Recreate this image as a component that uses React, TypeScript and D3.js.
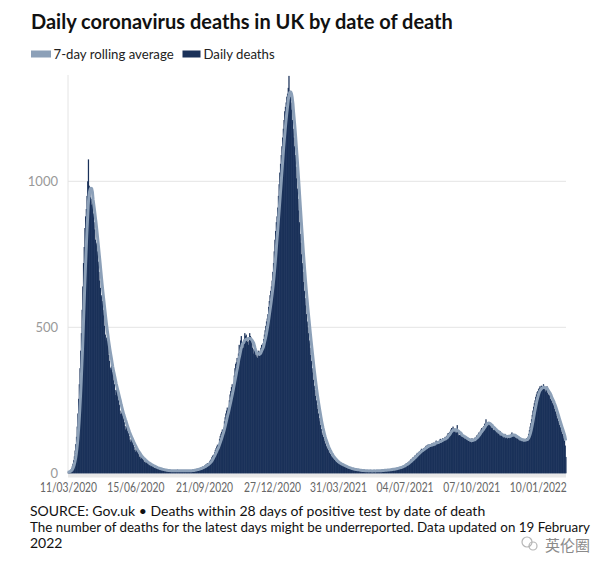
import React from "react";
import * as d3 from "d3";

// ---- Data: daily deaths within 28 days of positive test, by date of death ----
const d2020_03 = [3, 5, 7, 9, 13, 17, 24, 33, 45, 58, 78, 100, 125, 160, 205, 255, 305, 360, 420, 480, 560, 640];
const d2020_04 = [720, 775, 840, 880, 905, 950, 1000, 1075, 985, 960, 945, 920, 940, 925, 890, 860, 835, 800, 785, 790, 760, 725, 690, 660, 635, 605, 610, 590, 560, 540];
const d2020_05 = [505, 475, 455, 465, 455, 440, 405, 385, 362, 355, 368, 348, 335, 318, 305, 285, 268, 288, 278, 265, 250, 235, 215, 203, 205, 212, 198, 188, 175, 162, 150];
const d2020_06 = [160, 155, 145, 138, 128, 115, 108, 118, 115, 108, 98, 90, 80, 74, 85, 80, 75, 68, 62, 56, 50, 60, 56, 52, 48, 44, 39, 35, 43, 40];
const d2020_07 = [38, 34, 31, 28, 24, 31, 29, 27, 25, 22, 19, 17, 23, 20, 19, 17, 15, 14, 12, 16, 15, 14, 12, 11, 10, 9, 12, 11, 10, 9, 8];
const d2020_08 = [9, 7, 11, 10, 9, 8, 10, 7, 6, 11, 10, 9, 12, 8, 7, 6, 10, 11, 9, 10, 8, 7, 6, 9, 10, 11, 9, 10, 8, 7, 9];
const d2020_09 = [10, 11, 9, 12, 10, 8, 13, 14, 15, 13, 16, 14, 12, 18, 19, 21, 20, 23, 21, 19, 27, 29, 31, 33, 35, 32, 30, 41, 45, 48];
const d2020_10 = [55, 60, 62, 64, 72, 80, 86, 92, 98, 96, 100, 118, 128, 136, 142, 150, 148, 156, 178, 192, 205, 215, 225, 220, 222, 250, 270, 282, 295, 305, 300];
const d2020_11 = [310, 335, 360, 375, 380, 395, 385, 410, 440, 430, 455, 470, 445, 450, 430, 455, 480, 470, 475, 460, 450, 440, 455, 480, 470, 465, 445, 430, 410, 425];
const d2020_12 = [420, 405, 415, 400, 395, 410, 420, 405, 415, 430, 440, 435, 445, 460, 475, 490, 505, 520, 530, 545, 570, 590, 610, 625, 640, 660, 690, 720, 760, 800, 830];
const d2021_01 = [860, 880, 910, 950, 990, 1030, 1060, 1090, 1120, 1150, 1180, 1210, 1240, 1255, 1270, 1290, 1300, 1320, 1361, 1310, 1290, 1270, 1245, 1210, 1180, 1150, 1120, 1090, 1050, 1010, 975];
const d2021_02 = [940, 900, 860, 820, 790, 750, 720, 690, 655, 625, 600, 575, 545, 520, 500, 480, 455, 430, 405, 385, 360, 345, 320, 300, 285, 265, 250, 235];
const d2021_03 = [220, 205, 190, 178, 165, 152, 140, 132, 125, 118, 110, 102, 95, 90, 85, 80, 75, 70, 66, 62, 58, 55, 52, 50, 47, 44, 41, 39, 37, 35, 34];
const d2021_04 = [33, 31, 30, 28, 27, 29, 26, 24, 23, 22, 20, 21, 19, 18, 17, 18, 16, 15, 14, 15, 13, 12, 14, 12, 11, 13, 12, 10, 11, 10];
const d2021_05 = [9, 10, 8, 11, 9, 10, 8, 7, 9, 10, 8, 9, 7, 8, 10, 9, 7, 8, 9, 8, 10, 7, 8, 9, 10, 8, 9, 11, 8, 9, 10];
const d2021_06 = [9, 11, 10, 12, 10, 9, 11, 12, 13, 11, 12, 14, 13, 12, 15, 14, 16, 15, 13, 17, 18, 16, 19, 20, 18, 21, 22, 20, 24, 25];
const d2021_07 = [26, 28, 27, 30, 33, 35, 34, 38, 40, 39, 44, 48, 46, 52, 55, 53, 58, 62, 60, 66, 70, 68, 72, 75, 74, 80, 84, 78, 82, 86, 83];
const d2021_08 = [88, 92, 95, 90, 98, 94, 100, 96, 92, 99, 103, 97, 105, 101, 98, 108, 112, 104, 110, 106, 102, 115, 118, 110, 114, 120, 116, 112, 122, 125, 118];
const d2021_09 = [128, 132, 138, 135, 142, 140, 150, 155, 148, 160, 145, 142, 152, 138, 140, 165, 144, 130, 132, 128, 134, 126, 130, 124, 128, 120, 118, 124, 115, 118];
const d2021_10 = [115, 112, 108, 118, 110, 105, 120, 114, 118, 112, 122, 118, 125, 130, 128, 135, 140, 138, 145, 150, 155, 148, 158, 162, 170, 165, 185, 172, 168, 175, 170];
const d2021_11 = [165, 160, 172, 155, 158, 150, 148, 155, 145, 150, 140, 142, 135, 138, 130, 145, 128, 132, 125, 130, 122, 128, 135, 120, 126, 130, 118, 124, 132, 128];
const d2021_12 = [126, 135, 140, 128, 132, 125, 130, 122, 128, 118, 125, 115, 120, 112, 118, 110, 115, 112, 118, 110, 114, 116, 112, 120, 118, 125, 135, 148, 160, 172, 185];
const d2022_01 = [200, 215, 228, 240, 250, 262, 270, 278, 282, 288, 292, 298, 285, 300, 290, 296, 305, 288, 294, 280, 286, 298, 275, 270, 265, 268, 255, 250, 248, 240, 236];
const d2022_02 = [228, 220, 212, 205, 196, 188, 180, 172, 165, 158, 150, 142, 135, 128, 120, 112, 95, 56];

// [year, month, first day, values]
const monthBlocks: [number, number, number, number[]][] = [
  [2020, 3, 10, d2020_03], [2020, 4, 1, d2020_04], [2020, 5, 1, d2020_05], [2020, 6, 1, d2020_06],
  [2020, 7, 1, d2020_07], [2020, 8, 1, d2020_08], [2020, 9, 1, d2020_09], [2020, 10, 1, d2020_10],
  [2020, 11, 1, d2020_11], [2020, 12, 1, d2020_12], [2021, 1, 1, d2021_01], [2021, 2, 1, d2021_02],
  [2021, 3, 1, d2021_03], [2021, 4, 1, d2021_04], [2021, 5, 1, d2021_05], [2021, 6, 1, d2021_06],
  [2021, 7, 1, d2021_07], [2021, 8, 1, d2021_08], [2021, 9, 1, d2021_09], [2021, 10, 1, d2021_10],
  [2021, 11, 1, d2021_11], [2021, 12, 1, d2021_12], [2022, 1, 1, d2022_01], [2022, 2, 1, d2022_02],
];

const xTickDates = ["2020-03-11", "2020-06-15", "2020-09-21", "2020-12-27", "2021-03-31", "2021-07-04", "2021-10-07", "2022-01-10"];
const yTicks = [0, 500, 1000];

const title = "Daily coronavirus deaths in UK by date of death";
const legendItems = ["7-day rolling average", "Daily deaths"];
const footerLines = [
  "SOURCE: Gov.uk \u2022 Deaths within 28 days of positive test by date of death",
  "The number of deaths for the latest days might be underreported. Data updated on 19 February",
  "2022",
];

const BAR = "#1a3159";
const LINE = "#8ca0b8";
const FONT = "Lato, 'Open Sans', sans-serif";

type Pt = { date: Date; value: number };

const daily: Pt[] = [];
monthBlocks.forEach(([y, m, first, vals]) => {
  vals.forEach((v, i) => daily.push({ date: new Date(Date.UTC(y, m - 1, first + i)), value: v }));
});

const rolling: Pt[] = daily.map((d, i) => {
  const win = daily.slice(Math.max(0, i - 6), i + 1);
  return { date: d.date, value: d3.mean(win, (w) => w.value) as number };
});

export default function App() {
  const W = 611, H = 565;
  const left = 68, right = 566;
  const DAY = 86400000;
  const first = daily[0].date.getTime();
  const last = daily[daily.length - 1].date.getTime();
  const x = d3.scaleUtc().domain([new Date(first - DAY / 2), new Date(last + DAY / 2)]).range([67.5, right]);
  const y = d3.scaleLinear().domain([0, 1000]).range([473.3, 181.3]);
  const step = x(new Date(first + DAY)) - x(new Date(first));
  const fmt = d3.utcFormat("%d/%m/%Y");
  const line = d3.line<Pt>().x((d) => x(d.date)).y((d) => y(d.value));

  return (
    <div style={{ position: "absolute", left: 0, top: 0 }}>
      <svg width={W} height={H} style={{ display: "block", background: "#fff" }}>
        <text x={31} y={28.5} fontFamily={FONT} fontWeight={700} fontSize={20} fill="#111">{title}</text>

        {/* legend */}
        <rect x={31} y={50.5} width={20} height={7} fill={LINE} />
        <text x={53.5} y={58.5} fontFamily={FONT} fontSize={13.2} fill="#222">{legendItems[0]}</text>
        <rect x={182.5} y={50.5} width={18} height={7} fill={BAR} />
        <text x={203.5} y={58.5} fontFamily={FONT} fontSize={13.2} fill="#222">{legendItems[1]}</text>

        {/* grid */}
        <line x1={left} x2={left} y1={75} y2={473.3} stroke="#e4e4e4" strokeWidth={1} />
        {yTicks.map((t) => (
          <g key={t}>
            {t > 0 && <line x1={left} x2={right} y1={y(t)} y2={y(t)} stroke="#e4e4e4" strokeWidth={1} />}
            <text x={58} y={y(t)} dy="0.35em" textAnchor="end" fontFamily={FONT} fontSize={13} fill="#999">{t}</text>
          </g>
        ))}

        {/* baseline band */}
        <rect x={left} y={473.5} width={right - left} height={4} fill="#e8e8e8" />

        {/* bars (slightly overlapping so the fill reads as solid navy) */}
        {daily.map((d, i) => (
          <rect key={i} x={x(d.date) - step / 2} width={step + 0.55} y={y(d.value)} height={y(0) - y(d.value)} fill={BAR} />
        ))}

        {/* rolling average */}
        <path d={line(rolling) || ""} fill="none" stroke={LINE} strokeWidth={3} strokeLinejoin="round" />

        {/* x labels */}
        {xTickDates.map((s) => {
          const dt = new Date(s + "T00:00:00Z");
          return (
            <text key={s} x={x(dt)} y={492} textAnchor="middle" fontFamily={FONT} fontSize={12.5} fill="#666"
              textLength={57} lengthAdjust="spacingAndGlyphs">{fmt(dt)}</text>
          );
        })}

        {/* footer */}
        <text x={30} y={516} fontFamily={FONT} fontSize={14} fill="#111">{footerLines[0]}</text>
        <text x={30} y={532} fontFamily={FONT} fontSize={13.4} fill="#111" textLength={560} lengthAdjust="spacingAndGlyphs">{footerLines[1]}</text>
        <text x={30} y={548} fontFamily={FONT} fontSize={14} fill="#111">{footerLines[2]}</text>

        {/* watermark */}
        <g opacity={0.85}>
          <circle cx={527} cy={542} r={5} fill="none" stroke="#aaa" strokeWidth={1.2} />
          <circle cx={533} cy={546} r={4} fill="none" stroke="#aaa" strokeWidth={1.2} />
          <text x={545} y={551} fontFamily="'Noto Sans CJK SC', sans-serif" fontSize={15} fill="#777">英伦圈</text>
        </g>
      </svg>
    </div>
  );
}
